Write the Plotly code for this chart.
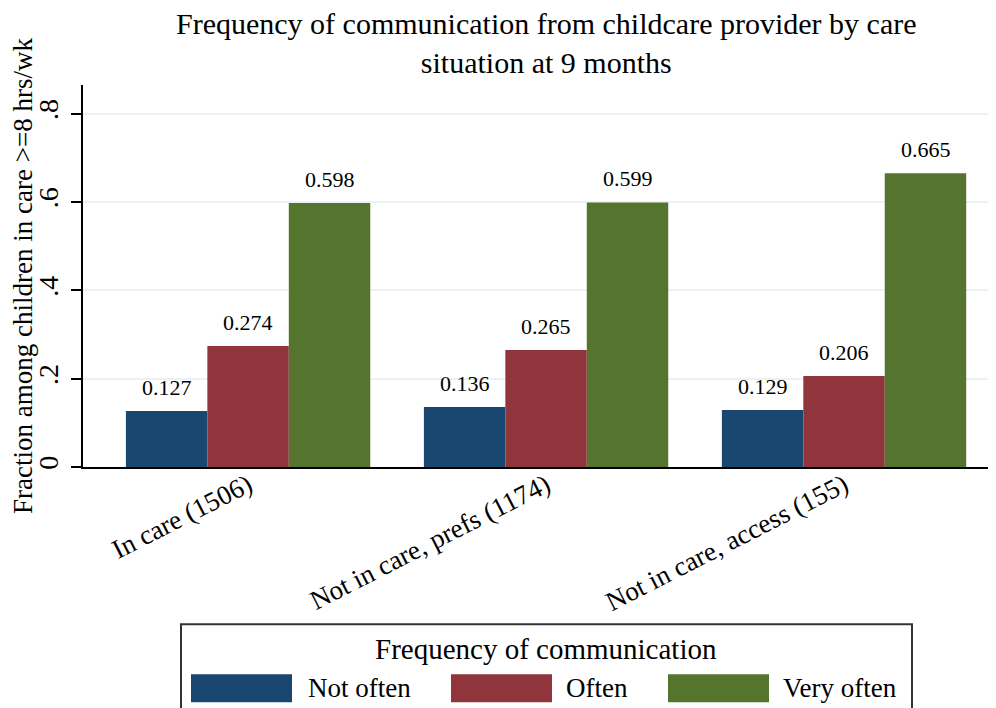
import plotly.graph_objects as go

# --- data ---
categories = ["In care (1506)", "Not in care, prefs (1174)", "Not in care, access (155)"]
series_names = ["Not often", "Often", "Very often"]
not_often = [0.127, 0.136, 0.129]
often = [0.274, 0.265, 0.206]
very_often = [0.598, 0.599, 0.665]
y_ticks = [0, 0.2, 0.4, 0.6, 0.8]
y_tick_labels = ["0", ".2", ".4", ".6", ".8"]

COLORS = ["#1a476f", "#90353b", "#55752f"]
FONT = "Liberation Serif, Times New Roman, serif"

# page body has an 8px margin -> screen px to paper coords
def sx(px):
    return (px - 83) / 913

def sy(py):
    return (467.5 - py) / 382.5

fig = go.Figure()
for k, (name, vals, col) in enumerate(zip(series_names, [not_often, often, very_often], COLORS)):
    fig.add_trace(go.Bar(x=categories, y=vals, name=name,
                         marker=dict(color=col, line=dict(width=0)), showlegend=False))
    # value labels above bars
    for cat, v in zip(categories, vals):
        fig.add_annotation(x=cat, y=v, xref="x", yref="y", text=f"{v:.3f}", showarrow=False,
                           xshift=(k - 1) * 81.5, yshift=9, yanchor="bottom",
                           font=dict(size=22, family=FONT, color="black"))

fig.update_layout(
    width=996, height=708,
    barmode="group", bargap=0.18, bargroupgap=0,
    paper_bgcolor="white", plot_bgcolor="white",
    font=dict(family=FONT, color="black"),
    margin=dict(l=75, r=8, t=77, b=248.5),
)
fig.update_xaxes(range=[-0.554, 2.51], showline=True, linecolor="black", linewidth=2,
                 ticks="", tickangle=-27, ticklabelstandoff=-10,
                 tickfont=dict(size=27, family=FONT, color="black"),
                 showgrid=False, automargin=False)
fig.update_yaxes(range=[0, 0.865], tickvals=y_ticks, ticktext=y_tick_labels, tickangle=-90,
                 showline=True, linecolor="black", linewidth=2, ticks="outside", ticklen=10,
                 tickcolor="black", tickwidth=2, ticklabelstandoff=2,
                 tickfont=dict(size=28, family=FONT, color="black"),
                 showgrid=True, gridcolor="#eaf2f3", gridwidth=2, zeroline=False, automargin=False,
                 title=dict(text="Fraction among children in care >=8 hrs/wk",
                            font=dict(size=27, family=FONT, color="black")))

# title
fig.add_annotation(xref="paper", yref="paper", x=sx(546), y=sy(43),
                   text="Frequency of communication from childcare provider by care<br>situation at 9 months",
                   showarrow=False, xanchor="center", yanchor="middle",
                   font=dict(size=30, family=FONT, color="black"))

# legend box (drawn manually to match the wide swatches)
fig.add_shape(type="rect", xref="paper", yref="paper",
              x0=sx(181), x1=sx(912), y0=sy(740), y1=sy(625),
              line=dict(color="#333333", width=2), fillcolor="white", layer="above")
fig.add_annotation(xref="paper", yref="paper", x=sx(546), y=sy(650),
                   text="Frequency of communication", showarrow=False,
                   font=dict(size=29, family=FONT, color="black"), yanchor="middle")
sw_x = [191, 451, 668]
lbl_x = [306, 564, 781]
for swx, lx, name, col in zip(sw_x, lbl_x, series_names, COLORS):
    fig.add_shape(type="rect", xref="paper", yref="paper",
                  x0=sx(swx), x1=sx(swx + 101), y0=sy(703), y1=sy(675),
                  fillcolor=col, line=dict(width=0), layer="above")
    fig.add_annotation(xref="paper", yref="paper", x=sx(lx), y=sy(689),
                       text=name, showarrow=False, xanchor="left", yanchor="middle",
                       font=dict(size=27, family=FONT, color="black"))

fig.write_html("out.html")
